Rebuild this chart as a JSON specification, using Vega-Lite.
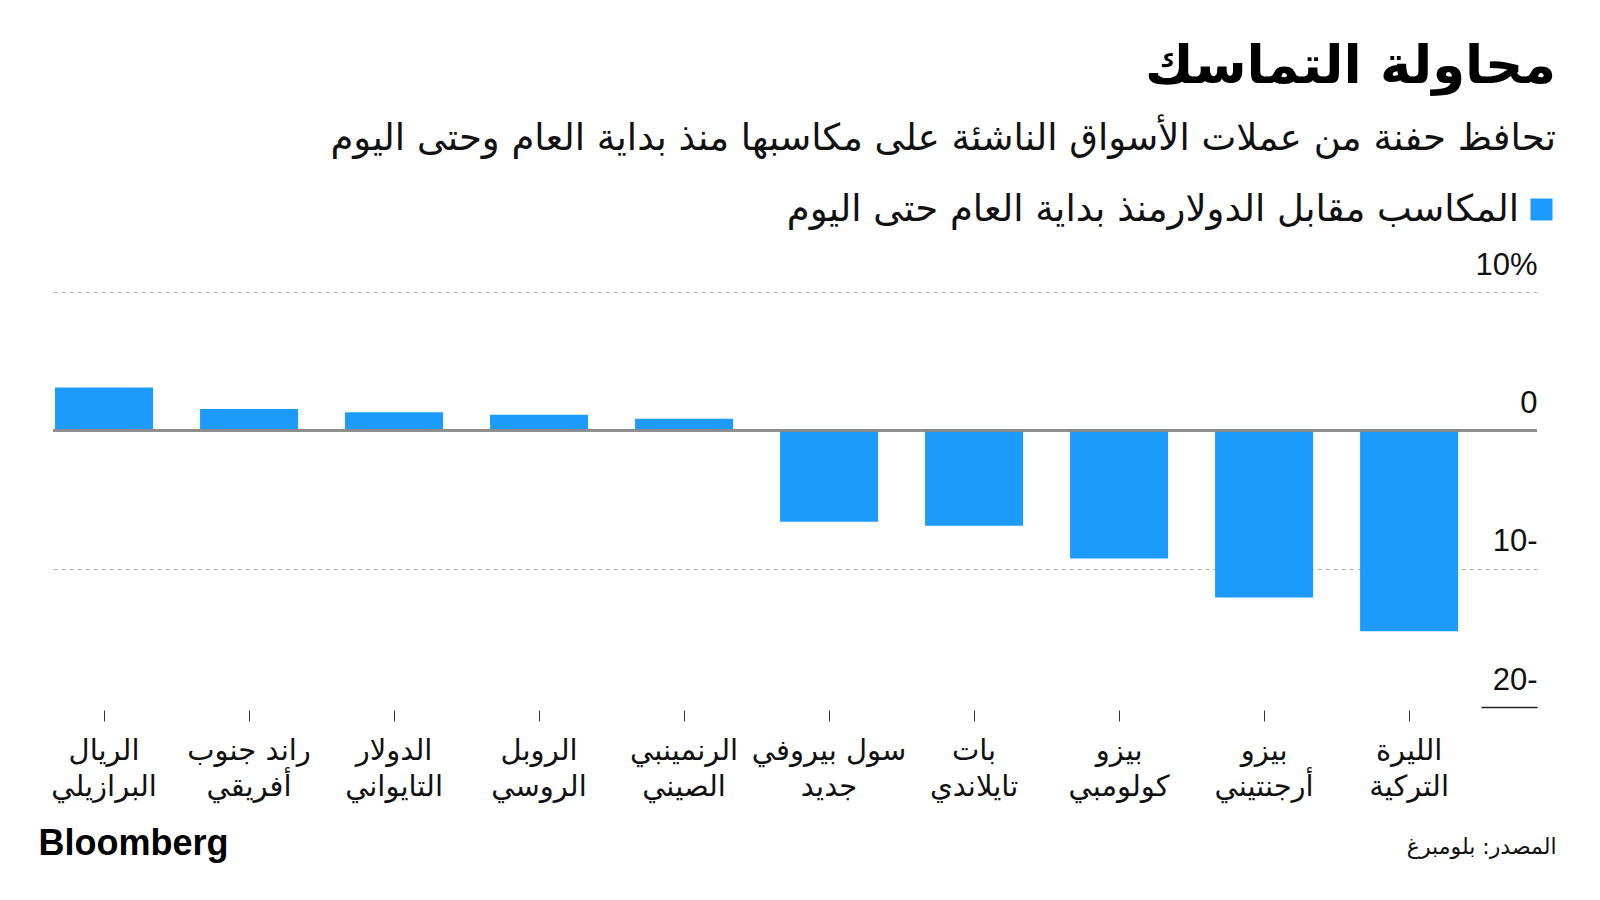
{
  "$schema": "https://vega.github.io/schema/vega-lite/v6.json",
  "autosize": {"type": "none"},
  "width": 1484,
  "height": 415,
  "padding": {"left": 53, "top": 292, "right": 63, "bottom": 193},
  "background": "white",
  "title": {
    "text": "محاولة التماسك",
    "subtitle": "تحافظ حفنة من عملات الأسواق الناشئة على مكاسبها منذ بداية العام وحتى اليوم",
    "anchor": "end",
    "frame": "group",
    "orient": "top",
    "dx": 19,
    "offset": 34,
    "font": "DejaVu Sans",
    "fontSize": 53,
    "fontWeight": "bold",
    "color": "#000000",
    "subtitleFont": "DejaVu Sans",
    "subtitleFontSize": 37,
    "subtitleColor": "#111111",
    "subtitlePadding": 27
  },
  "data": {
    "values": [
      {"currency": "الريال|البرازيلي", "order": 1, "gain": 3.1, "series": "المكاسب مقابل الدولارمنذ بداية العام حتى اليوم"},
      {"currency": "راند جنوب|أفريقي", "order": 2, "gain": 1.54, "series": "المكاسب مقابل الدولارمنذ بداية العام حتى اليوم"},
      {"currency": "الدولار|التايواني", "order": 3, "gain": 1.3, "series": "المكاسب مقابل الدولارمنذ بداية العام حتى اليوم"},
      {"currency": "الروبل|الروسي", "order": 4, "gain": 1.12, "series": "المكاسب مقابل الدولارمنذ بداية العام حتى اليوم"},
      {"currency": "الرنمينبي|الصيني", "order": 5, "gain": 0.84, "series": "المكاسب مقابل الدولارمنذ بداية العام حتى اليوم"},
      {"currency": "سول بيروفي|جديد", "order": 6, "gain": -6.6, "series": "المكاسب مقابل الدولارمنذ بداية العام حتى اليوم"},
      {"currency": "بات|تايلاندي", "order": 7, "gain": -6.89, "series": "المكاسب مقابل الدولارمنذ بداية العام حتى اليوم"},
      {"currency": "بيزو|كولومبي", "order": 8, "gain": -9.26, "series": "المكاسب مقابل الدولارمنذ بداية العام حتى اليوم"},
      {"currency": "بيزو|أرجنتيني", "order": 9, "gain": -12.08, "series": "المكاسب مقابل الدولارمنذ بداية العام حتى اليوم"},
      {"currency": "الليرة|التركية", "order": 10, "gain": -14.53, "series": "المكاسب مقابل الدولارمنذ بداية العام حتى اليوم"}
    ]
  },
  "layer": [
    {
      "mark": {"type": "bar"},
      "encoding": {
        "x": {
          "field": "currency",
          "type": "nominal",
          "sort": {"field": "order", "order": "ascending"},
          "scale": {"paddingInner": 0.324, "paddingOuter": 0.279, "align": 0.025},
          "axis": {
            "title": "المصدر: بلومبرغ",
            "titleX": 1503,
            "titleY": 136,
            "titleAlign": "right",
            "titleBaseline": "middle",
            "titleAnchor": null,
            "titleFont": "DejaVu Sans",
            "titleFontSize": 22,
            "titleFontWeight": "normal",
            "titleColor": "#111111",
            "labelExpr": "split(datum.value, '|')",
            "labelAngle": 0,
            "labelFont": "DejaVu Sans",
            "labelFontSize": 29,
            "labelColor": "#111111",
            "labelLineHeight": 36,
            "labelPadding": 15,
            "labelLimit": 400,
            "labelBaseline": "top",
            "domain": false,
            "ticks": true,
            "tickSize": 11,
            "tickColor": "#333333",
            "tickWidth": 1,
            "offset": 3,
            "grid": false
          }
        },
        "y": {
          "field": "gain",
          "type": "quantitative",
          "scale": {"domain": [-20, 10], "nice": false},
          "axis": {
            "orient": "right",
            "title": "Bloomberg",
            "titleAngle": 0,
            "titleX": -1499,
            "titleY": 551,
            "titleAlign": "left",
            "titleBaseline": "middle",
            "titleAnchor": null,
            "titleFont": "Liberation Sans",
            "titleFontSize": 36,
            "titleFontWeight": "bold",
            "titleColor": "#000000",
            "values": [-20, -10, 0, 10],
            "labelExpr": "datum.value > 0 ? datum.value + '%' : (datum.value < 0 ? abs(datum.value) + '-' : '0')",
            "labelAlign": "right",
            "labelBaseline": "alphabetic",
            "labelOffset": -18,
            "labelPadding": 56,
            "labelFont": "Liberation Sans",
            "labelFontSize": 31,
            "labelColor": "#111111",
            "domain": false,
            "ticks": true,
            "tickSize": -56,
            "tickWidth": 1.5,
            "tickColor": {"condition": {"test": "datum.value === -20", "value": "#222222"}, "value": "transparent"},
            "grid": true,
            "gridColor": {"condition": {"test": "abs(datum.value) === 10", "value": "#b5b5b5"}, "value": "transparent"},
            "gridDash": [4, 4],
            "gridWidth": 1
          }
        },
        "color": {
          "field": "series",
          "type": "nominal",
          "scale": {"range": ["#1c9bfd"]},
          "legend": {
            "orient": "none",
            "legendX": 1470,
            "legendY": -101,
            "title": null,
            "symbolType": "square",
            "symbolSize": 484,
            "symbolStrokeWidth": 0,
            "labelAlign": "right",
            "labelOffset": -41,
            "labelFont": "DejaVu Sans",
            "labelFontSize": 37,
            "labelColor": "#111111",
            "labelLimit": 1200,
            "padding": 0,
            "encode": {"symbols": {"update": {"fill": {"value": "#1271ff"}, "stroke": {"value": "#1271ff"}}}}
          }
        }
      }
    },
    {
      "mark": {"type": "rule", "color": "#8c8c8c", "strokeWidth": 2},
      "encoding": {"y": {"datum": 0}}
    }
  ],
  "config": {
    "view": {"stroke": null}
  }
}
